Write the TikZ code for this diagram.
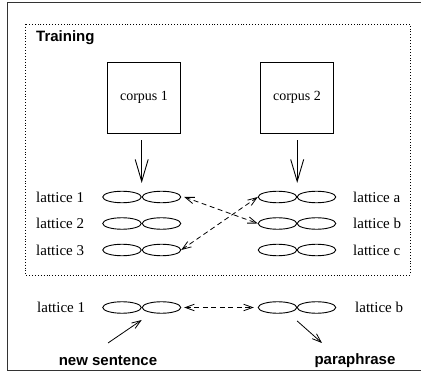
\documentclass[tikz,border=0pt]{standalone}
\usepackage{fontspec}
\setmainfont{Liberation Serif}
\setsansfont{Liberation Sans}
\usetikzlibrary{arrows.meta,shapes.geometric}
\begin{document}
\begin{tikzpicture}[x=1pt,y=-1pt,
  ell/.style={ellipse,draw,line width=0.9pt,minimum width=38.5pt,minimum height=11.5pt,inner sep=0pt},
  lbl/.style={font=\fontsize{15}{15}\selectfont,inner sep=0pt,anchor=west},
  bsf/.style={font=\sffamily\bfseries\fontsize{15}{15}\selectfont,inner sep=0pt},
  corp/.style={draw,line width=0.9pt,minimum width=73pt,minimum height=71pt,inner sep=0pt,font=\fontsize{14}{14}\selectfont},
  bigarr/.style={line width=0.9pt,-{Straight Barb[length=22pt,width=13pt,line width=0.9pt]}},
  smarr/.style={line width=0.8pt,-{Straight Barb[length=9pt,width=6.5pt,line width=0.8pt]}},
  dsharr/.style={line width=0.8pt,dash pattern=on 5pt off 3.5pt,{Straight Barb[length=9pt,width=6.5pt,line width=0.8pt,sep=0pt]}-{Straight Barb[length=9pt,width=6.5pt,line width=0.8pt]}}
]
\useasboundingbox (0,0) rectangle (421,374);
\draw[line width=1pt,black!80] (7,3) rectangle (440,371);
\draw[line width=0.9pt,dotted] (25,24) rectangle (410,275);
\node[bsf,anchor=west] (train) at (36,38) {Training};
\node[corp] (c1) at (144,97.5) {corpus 1};
\node[corp] (c2) at (297,97.5) {corpus 2};
% left lattices
\foreach \n/\y in {1/197,2/223.5,3/250}{
  \node[ell] (L\n a) at (122,\y) {};
  \node[ell] (L\n b) at (161.5,\y) {};
  \node[lbl] (LT\n) at (36,\y) {lattice \n};
}
\foreach \n/\y in {a/197,b/223.5,c/250}{
  \node[ell] (R\n a) at (277.5,\y) {};
  \node[ell] (R\n b) at (316.5,\y) {};
  \node[lbl] (RT\n) at (353,\y) {lattice \n};
}
% bottom row
\node[ell] (B1a) at (122,307.5) {};
\node[ell] (B1b) at (161.5,307.5) {};
\node[lbl] (BT1) at (37,307.5) {lattice 1};
\node[ell] (B2a) at (277.5,307.5) {};
\node[ell] (B2b) at (316.5,307.5) {};
\node[lbl] (BT2) at (355,307.5) {lattice b};
\node[bsf] (ns) at (108,361) {new sentence};
\node[bsf] (pp) at (355,361) {paraphrase};
% arrows
\draw[bigarr] ([yshift=-7pt]c1.south -| L1a.east) -- ([yshift=14pt]L1a.east);
\draw[bigarr] ([yshift=-7pt]c2.south -| Raa.east) -- ([yshift=14pt]Raa.east);
\draw[dsharr] ([xshift=3pt]L1b.east) -- (Rba.west);
\draw[dsharr] (L3b.east) -- (Raa.west);
\draw[dsharr] ([xshift=3pt]B1b.east) -- ([xshift=-4pt]B2a.west);
\coordinate (nsA) at (108,343);
\coordinate (ppB) at (322,343);
\draw[smarr] (nsA) -- ([yshift=-12.5pt]B1a.east);
\draw[smarr] ([yshift=-13.5pt]B2a.east) -- (ppB);
\end{tikzpicture}
\end{document}
